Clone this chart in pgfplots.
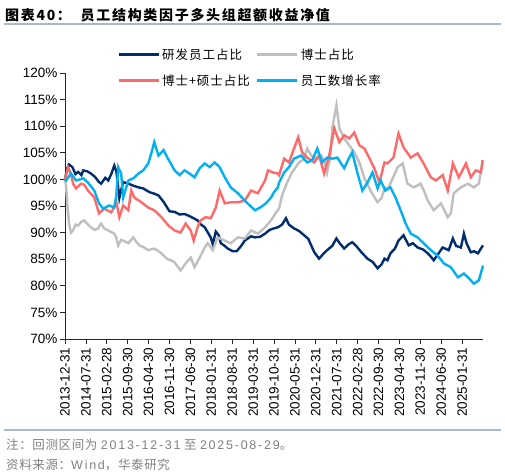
\documentclass[border=0pt]{standalone}
\usepackage{fontspec}
\setmainfont{Liberation Sans}
\newfontfamily\cjk{Noto Sans CJK SC}
\newfontfamily\cjkleg[LetterSpace=8]{Noto Sans CJK SC}
\newfontfamily\cjktitle[LetterSpace=12]{Noto Sans CJK SC}
\newfontfamily\notefont[LetterSpace=14]{Liberation Sans}
\newfontfamily\cjknote[LetterSpace=5]{Noto Sans CJK SC}
\usepackage{pgfplots}
\usepackage{pgfplotstable}
\pgfplotsset{compat=1.18}
\definecolor{cnavy}{RGB}{0,45,110}
\definecolor{cgray}{RGB}{191,191,191}
\definecolor{cred}{RGB}{255,105,105}
\definecolor{ccyan}{RGB}{0,176,240}
\definecolor{cline}{RGB}{166,185,205}
\definecolor{cnote}{RGB}{128,128,128}

\pgfplotstableread{
m v
0 100
0.7 102
1.35 102.8
2.5 102.3
3.5 101
4.4 101.4
5.5 100.8
6.1 101.7
7.5 101.5
8.7 101.1
10 100.5
11.4 99.5
12.1 99.2
13.5 100.3
14.5 99.8
15.5 101
16.5 102.6
17.2 101.5
17.8 98.5
18.2 96.5
18.8 98
19.5 99.5
21.2 99.2
23 98.8
24.6 98.5
26.2 98.3
28.3 97.6
30 97.3
31.3 97
33 95.8
35 94
36.7 93.9
38.4 93.4
40 93.5
41.7 93.1
43.4 92.6
44.4 92.3
45.4 91.6
46.8 91
48.8 89.1
49.5 87.8
50.5 90.2
51.5 89.5
52.2 88
53.5 87.5
54.5 87
56.2 86.5
57.5 86.5
59 87.5
60.2 88.5
62.3 89.3
63.6 89.1
65.3 89.2
67 89.8
68.5 90.5
70 90.8
71.3 91
72.7 91.5
74 92.7
75 91.5
76.7 90.8
78.4 90.3
80.1 89.5
81.5 88.8
83.5 86.3
85.1 85.1
86.5 86
87.8 86.7
89.5 87.5
90.9 88.9
92 88
93.5 87
95 87.8
96.2 88.2
97.5 87.5
99.3 86.3
101.3 85.1
103 84.5
104.7 83.3
106 84
107 85.1
108 84.8
109 86.1
110.5 87
111.7 88.5
113.4 89.5
115.1 87.6
116.5 88
118.1 87.2
120 86.8
121.5 86.1
122.5 85.5
123.5 84.8
125 86
126.5 87.2
128.5 86.7
129.9 88.9
131 87.5
132.6 87.2
133.6 89.8
134.5 88
135.9 86.3
137 86.5
138.3 86.1
139.3 87
140 87.6
}\navy

\pgfplotstableread{
m v
0 100
0.34 98.9
0.8 95
1.35 91.7
2.0 90
2.7 90.4
3.5 91.5
4.4 91.3
5.4 92
6.4 92.3
7.7 91.5
8.7 91
10 90.5
11.1 90.8
12.1 91.7
13.1 90.8
14.5 90.4
16.5 89.8
17.2 89
17.8 87.6
18.8 88.6
19.5 88.5
21.2 88
22.9 89.1
24 88.2
24.9 87.6
26.2 87.3
27.9 86.7
29.9 87
31.3 86.5
32.3 86.1
34.3 85
35.5 84.8
36.7 84.4
38.7 82.9
40.4 84.2
42.1 85.3
43.4 83.5
45.1 85.3
46.8 87.2
47.8 88
49.5 86.7
51.1 89.1
53.5 88.5
55.5 88
57.9 89.1
60.2 88.9
62.3 90.4
64.6 89.8
67 91
69 92.3
70.7 93.8
71.7 94.5
72.7 97
74.4 99.4
76 101.3
78.4 103.2
80 103.8
81.1 105.8
82.5 104.5
83.5 103.9
85.8 104.5
86.8 103.5
87.8 101.3
88.8 104
89.5 109.6
90.9 113.9
91.9 109.6
93.5 107.7
95.2 106.4
96.9 105.1
98.6 103.2
100.3 100.2
102.6 97.6
104.7 95.7
106 96.5
107 98.3
108.4 98.5
110 100.5
111.4 102.3
113.1 103
114.7 99.2
116.8 98.5
119.1 99.2
120.5 97.5
121.5 96
123.5 94.2
125.9 95.5
128.2 92.9
129.2 93.6
130.2 97.4
132.6 98.5
134.9 99.2
136.9 98.5
138.6 99.2
139.9 103.6
}\gray

\pgfplotstableread{
m v
0 100
0.7 101.5
1.0 102.3
2 101
2.7 99.2
3.7 98.3
5.4 99.2
6.4 99
7.7 97.9
9.8 96.6
11.4 93.6
13.1 94.5
15.5 93.8
17.2 95.7
18.2 92.9
19.5 95.1
21.2 94.2
22.2 97.9
23.2 96.6
25.6 95.7
27.9 94.7
29.9 94.2
32.3 92.9
34.7 91.3
36.7 90.4
38.7 90
40.4 91.7
42.1 90.4
43.1 88.5
44.4 91
45.4 92.3
47.1 92.9
48.8 92.7
50.5 94.7
51.8 97.9
53.5 95.5
55.5 95.7
57.9 95.7
60.2 96
62.3 97.9
64.6 97.4
67 99.8
68 101.7
69.7 101.3
71.3 101.1
71.7 100.8
73.4 103.9
75 103.2
76.7 105.8
78.1 107.9
79.4 105.1
81.1 104.1
83.5 103.2
85.1 104.5
86.8 101.1
88.5 104.5
90.2 109.6
91.9 107
93.5 108.3
95.2 107.7
96.9 108.8
98.6 106.4
100.3 105.8
102 103.9
103.6 102.1
105.3 99.4
107 103.2
108 103
110 104.1
111.7 108.6
113.4 106
115.8 104.1
118.1 104.9
120.1 103
122.5 100.4
124.2 99.8
126.5 100.8
128.2 97.9
129.9 103
131.9 100.4
134.3 103
135.9 100.4
137.6 101.7
139.3 101.3
139.9 103.6
}\red

\pgfplotstableread{
m v
0 100
0.34 99.8
2.0 101.1
3.7 99.8
6.1 100.2
7.7 99.4
9.8 97.9
11.4 95.5
12.8 94.5
14.8 95.1
16.5 94.7
17.2 97
17.8 102.3
18.8 101.1
19.5 96.6
21.2 99.8
22.9 100.2
24.6 101.1
26.2 101.7
27.9 103
28.9 104.9
29.9 107
31.3 104.5
33 105.5
34.3 104.1
36.7 101.7
38.4 100.8
40 101.7
41.7 101.1
43.4 100.4
45.1 102.1
46.8 103
48.5 102.3
50.1 103.2
51.8 102.3
53.5 100.4
55.5 98.5
57.9 97.4
60.2 96
61.9 95.1
63.6 94.2
65.3 94.7
67.3 95.5
69 96.6
70 97.6
71.3 98.5
71.7 99.4
73.4 101.3
75 102.3
76.7 103.9
79.1 104.5
81.1 103.2
82.8 103.6
84.5 105.8
86.1 103.2
87.8 104.1
89.5 103.9
91.2 104.1
93.5 102.1
95.2 104.1
96.2 105.1
97.9 101.3
99.6 97.9
101.3 99.4
103 101.3
104.7 98.3
105.7 99.8
107.3 97.9
109 98.5
110.7 96.6
112.4 94.2
114.1 91.7
115.8 89.8
118.1 89.1
120.1 88
122.5 86.7
124.8 85.7
126.9 84.2
129.2 83.5
131.6 81.6
133.6 82.3
135.3 81.4
136.9 80.4
138.6 81
140 83.8
}\cyan

\begin{document}
\begin{tikzpicture}
\path[use as bounding box] (0,0) rectangle (505pt,475pt);
\node[anchor=west, inner sep=0pt] at (5pt,460pt) {\cjktitle\bfseries\fontsize{14}{16}\selectfont 图表40：\ \ 员工结构类因子多头组超额收益净值};
\draw[cline, line width=1.2pt] (4pt,451pt) -- (501pt,451pt);
\draw[cline, line width=1.2pt] (4pt,45pt) -- (501pt,45pt);
\node[anchor=west, inner sep=0pt, text=cnote] at (6pt,30pt) {\fontsize{12.5}{14}\selectfont{\cjknote 注：回测区间为} {\notefont 2013-12-31} {\cjknote 至} {\notefont 2025-08-29}{\cjknote 。}};
\node[anchor=west, inner sep=0pt, text=cnote] at (6pt,10pt) {\fontsize{12.5}{14}\selectfont{\cjknote 资料来源：}{\notefont Wind}{\cjknote ，华泰研究}};
\begin{axis}[
  scale only axis, width=418pt, height=266pt,
  at={(65pt,136pt)}, anchor=south west,
  xmin=0, xmax=140, ymin=70, ymax=120,
  axis x line*=bottom, axis y line*=left,
  axis line style={black!85, line width=0.8pt},
  tick align=outside, major tick length=5pt,
  tick style={black!85, line width=0.8pt},
  xtick={0,7,...,133},
  xticklabels={2013-12-31,2014-07-31,2015-02-28,2015-09-30,2016-04-30,2016-11-30,2017-06-30,2018-01-31,2018-08-31,2019-03-31,2019-10-31,2020-05-31,2020-12-31,2021-07-31,2022-02-28,2022-09-30,2023-04-30,2023-11-30,2024-06-30,2025-01-31},
  xticklabel style={rotate=90, anchor=east, font=\fontsize{13.5}{14}\selectfont},
  ytick={70,75,...,120},
  yticklabel={\pgfmathprintnumber{\tick}\%},
  yticklabel style={font=\fontsize{13.5}{14}\selectfont, xshift=1pt},
  /pgf/number format/assume math mode=true,
  legend columns=2,
  legend cell align=left,
  legend style={at={(0.124,1.10)}, anchor=north west, draw=none, fill=none,
    font=\cjkleg\fontsize{12.5}{14}\selectfont, row sep=10pt, inner sep=0pt,
    /tikz/every even column/.append style={column sep=4pt}},
  legend image code/.code={\draw[#1, line width=3pt] (0pt,0pt) -- (40pt,0pt);},
  clip=false,
]
\addplot[cnavy, line width=2.4pt] table[x=m,y=v] {\navy};
\addlegendentry{研发员工占比}
\addplot[cgray, line width=2.4pt] table[x=m,y=v] {\gray};
\addlegendentry{博士占比}
\addplot[cred, line width=2.4pt] table[x=m,y=v] {\red};
\addlegendentry{博士+硕士占比}
\addplot[ccyan, line width=2.4pt] table[x=m,y=v] {\cyan};
\addlegendentry{员工数增长率}
\end{axis}
\end{tikzpicture}
\end{document}
